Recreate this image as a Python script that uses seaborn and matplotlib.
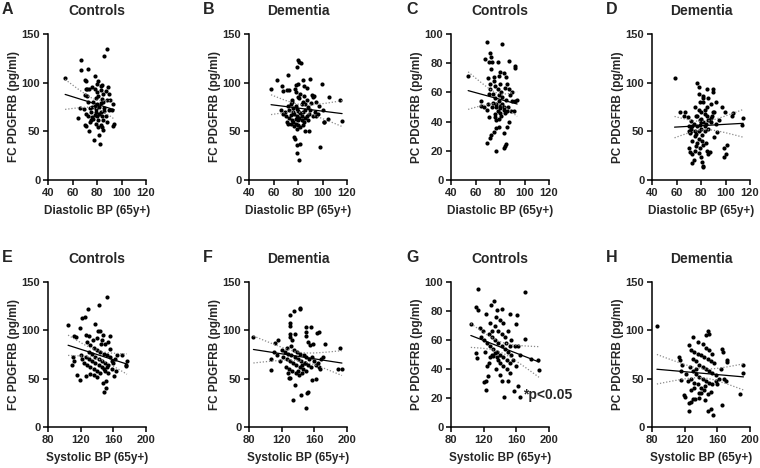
import numpy as np
import pandas as pd
import seaborn as sns
import matplotlib
matplotlib.use("Agg")
import matplotlib.pyplot as plt

# ---------------- data ----------------
# A: FC PDGFRB, controls vs diastolic BP
a_x = [54, 67, 67, 73, 88, 86, 70, 71, 78, 81, 80, 84, 83.5, 89, 70.7, 72, 73.5, 78, 83, 87,
       85, 70.5, 72, 81, 79, 84, 88, 73, 77, 80, 83, 91, 66, 69, 74, 78, 82, 86, 75, 71,
       79, 83, 86, 90, 73, 76, 80, 84, 64.8, 77, 81, 85, 88, 74, 79, 83, 94, 93, 70, 71,
       81, 84, 73.5, 85, 81.6, 77.5, 82.4, 93, 92, 76, 79, 82, 75, 78, 87, 80, 76, 90, 85]
a_y = [105, 123, 113, 114, 135, 127, 103, 102, 107, 102, 99, 98, 96.5, 96, 94, 94, 94, 93, 92, 91,
       88, 87, 86, 86, 84, 83, 82, 80, 80, 78, 79, 82, 73.6, 73, 74, 76, 75, 74, 70, 68,
       70, 70, 71, 72, 66, 65, 66, 66, 64, 63, 62, 62, 60, 60, 58, 57, 58, 55, 56, 55,
       54, 54, 50, 51, 46.6, 41, 37, 78, 72, 75, 73, 68, 62, 67, 66, 90, 96, 88, 80]

# B: FC PDGFRB, dementia vs diastolic BP
b_x = [58, 63, 72, 80, 81, 82.5, 79.5, 78.6, 80, 84.4, 90, 99.7, 67, 67.7, 71, 73, 77.5, 85, 87, 91.5,
       92, 105.7, 114, 100, 104.6, 101, 101.5, 116, 82, 79, 79, 81, 98, 77, 77.5, 89, 85.5,
       72, 74, 76, 78, 80, 82, 84, 86, 88, 90, 70, 73, 75, 77, 79, 81, 83, 85, 87, 89,
       71, 74, 76, 78, 80, 82, 84, 86, 92, 94, 96, 75, 78, 81, 83, 85, 87, 79, 76, 73,
       69, 68, 66, 80, 83, 77, 79, 84, 88, 91, 93, 95, 74, 82, 86, 78, 80, 72, 75, 95, 97]
b_y = [93, 103, 108, 123, 121, 120.5, 116, 98, 99, 103, 104, 98.6, 96.6, 91, 92, 92.5, 94, 96.5, 94.5, 87,
       85.6, 85, 82, 72, 63, 60, 59.5, 61, 36.6, 36, 28, 20.5, 34, 44.5, 42, 50, 50,
       76, 78, 74, 76, 85, 88, 80, 78, 75, 72, 66, 64, 62, 68, 66, 64, 62, 60, 66, 68,
       60, 58, 60, 58, 56, 54, 70, 72, 66, 70, 68, 82, 90, 84, 78, 86, 82, 73, 70, 72,
       70, 68, 72, 62, 66, 55, 52, 57, 62, 79, 86, 66, 67, 69, 64, 63, 71, 58, 80, 80, 76]

# C: PC PDGFRB, controls vs diastolic BP
c_x = [54, 69, 82, 67.4, 72, 72.6, 78, 71, 73.4, 87, 92.6, 92, 70, 75, 79, 84.7, 80, 76, 72, 86,
       70.7, 74, 79, 82, 90, 92, 94, 64.6, 66.6, 64.6, 73.4, 77, 80.3, 83, 86.3, 89, 91.8, 69, 71, 76,
       80, 84, 77, 79, 76.4, 87, 75, 73, 83, 71.5, 69, 85, 84, 83, 77,
       78, 81, 84, 76, 79, 82, 85, 88, 74, 77, 80, 83, 86, 78, 81, 72, 75, 83, 87, 90,
       73, 80, 76, 79, 86, 70]
c_y = [71, 94.7, 93, 83, 86.8, 84, 81, 80.6, 80.8, 81.5, 76.5, 78, 70, 70.8, 71, 70.5, 66, 64.4, 62, 66,
       59, 59, 58, 57, 54, 54.3, 55, 54.3, 50, 51, 50, 50, 49, 50, 50, 47, 47, 48, 43, 45,
       45.6, 46, 41, 36.5, 35.6, 40, 33, 31, 32, 28.5, 25.6, 24.7, 23, 21.7, 20,
       62, 60, 63, 56, 54, 52, 55, 58, 53, 52, 51, 48, 47, 47, 44, 66, 68, 73, 62, 60,
       76, 74, 43, 42, 36, 52]

# D: PC PDGFRB, dementia vs diastolic BP
d_x = [58.4, 77, 78, 84.7, 89.6, 89.6, 78, 81.5, 85.5, 99.6, 106, 105, 114.5, 113.7, 101, 99, 100, 99,
       63, 67, 69, 71.7, 73, 70, 71, 70, 71, 73, 74, 73, 81, 82, 81.5, 86, 87, 91, 93, 97, 92, 82,
       75, 78, 80, 83, 85, 88, 76, 79, 82, 84, 87, 90, 74, 77, 80, 83, 86, 89, 75, 78,
       81, 84, 73, 76, 79, 82, 75, 78, 80, 72, 70, 66, 85, 88, 91, 79, 82, 77, 80, 83,
       78, 75, 81, 86, 88, 92, 95, 72, 77, 85, 80, 83, 79, 76]
d_y = [104.5, 99.7, 96, 93, 93, 90.4, 88, 86, 84.6, 70, 69, 66, 64, 56.5, 36, 33, 27, 24,
       70, 69.5, 65, 61, 55.5, 50, 48.6, 32.5, 29, 26.7, 21, 17, 18.5, 14.7, 13, 27, 29, 44.5, 49.6, 75, 80.5, 80.5,
       75, 72, 70, 68, 66, 64, 66, 62, 60, 58, 62, 70, 58, 55, 52, 50, 62, 66, 45, 42,
       40, 38, 40, 35, 33, 36, 30, 28, 24, 50, 55, 66, 75, 78, 70, 80, 84, 66, 60, 55,
       50, 50, 46, 52, 60, 58, 62, 52, 38, 30, 63, 72, 57, 47]

# E: FC PDGFRB, controls vs systolic BP
e_x = [104.6, 119, 111.5, 114, 128.8, 142, 151.7, 122, 125, 137, 141, 143.5, 127, 130, 156, 146, 156, 171,
       176.7, 175.5, 175.5, 109, 111.5, 110.7, 119.7, 115.6, 126, 148, 150.5, 147.6, 150.5, 161, 163.5,
       128, 132, 136, 140, 144, 148, 152, 156, 130, 134, 138, 142, 146, 150, 154, 158, 162, 126,
       124, 128, 132, 136, 140, 144, 148, 152, 120, 122, 130, 134, 138, 142, 146, 150, 154, 136,
       140, 132, 160, 165, 145, 150, 153, 140, 135, 147, 158]
e_y = [105.4, 102, 93.7, 93.4, 122, 126, 134.6, 113, 113.7, 106.4, 99.5, 99, 94.7, 94, 93.7, 90, 80.7, 74.8,
       68.7, 64.5, 62.8, 63.8, 68.7, 72.8, 48.7, 54, 53, 36.4, 40.5, 45.3, 48, 53, 58,
       88, 85, 82, 80, 78, 76, 74, 72, 78, 76, 72, 70, 68, 66, 64, 68, 70, 72,
       66, 64, 62, 60, 58, 56, 60, 62, 74, 70, 70, 68, 66, 64, 62, 58, 56, 54,
       52, 55, 66, 75, 86, 86, 88, 92, 90, 95, 60]

# F: FC PDGFRB, dementia vs systolic BP
f_x = [85.4, 129.6, 129.6, 129.6, 135, 142.5, 143, 112, 116, 129.6, 130.5, 136, 150, 150, 156, 149.5, 166, 162.7,
       172.7, 192, 188.6, 193.8, 167, 162, 157, 107, 106.9, 136, 133.8, 152, 151.6, 143.7, 149.5, 128.4, 130.5,
       120, 124, 128, 132, 136, 140, 144, 148, 152, 156, 122, 126, 130, 134, 138, 142, 146, 150,
       125, 129, 133, 137, 141, 145, 149, 153, 157, 160, 164, 168, 118, 114, 110, 127, 131, 135, 139,
       143, 147, 155, 158, 152, 162, 166, 170, 128, 140, 145, 150, 133]
f_y = [93, 115.7, 108, 104.7, 119.5, 122, 123, 86.5, 90, 96, 93, 96, 97.9, 93.7, 103, 103, 98, 97.5,
       86, 82, 59.7, 60, 60, 50, 49, 70, 59.4, 43, 28, 36, 35, 33, 20, 51, 50.8,
       80, 78, 76, 74, 72, 70, 68, 66, 64, 62, 72, 70, 68, 66, 64, 62, 60, 58,
       62, 60, 58, 56, 54, 56, 66, 70, 72, 68, 66, 70, 68, 74, 78, 82, 84, 80, 78,
       76, 74, 85, 86, 88, 64, 62, 72, 56, 58, 64, 72, 90]

# G: PC PDGFRB, controls vs systolic BP
g_x = [104.3, 113, 110, 113.3, 132.6, 129.3, 136.7, 142, 170, 152, 161, 159.3, 123, 115, 170.8, 186.8, 187.7, 178,
       110.8, 111.6, 123, 120.7, 123, 144.5, 157.7, 161.8, 164, 150, 152, 142.9, 125,
       120, 124, 128, 132, 136, 140, 144, 148, 152, 126, 130, 134, 138, 142, 146, 150, 154,
       122, 130, 132, 134, 136, 138, 140, 144, 148, 128, 126, 124, 130, 134, 138, 142, 146,
       150, 154, 158, 162, 165, 156, 160, 144, 140, 128, 135, 147, 152, 119, 117, 135, 140]
g_y = [71.3, 95.4, 83, 81, 87, 84, 81, 81.6, 93, 77.7, 77, 71, 78, 68, 61, 46, 39.5, 47,
       51.3, 47.4, 32, 31, 25.7, 20.7, 24.8, 28, 21, 32, 37, 32, 35,
       60, 58, 56, 54, 52, 50, 48, 46, 44, 64, 62, 60, 58, 56, 54, 52, 50,
       52, 50, 49, 51, 48, 46, 44, 42, 40, 48, 44, 42, 66, 70, 66, 64, 62,
       66, 60, 56, 56, 50, 46, 42, 72, 74, 72, 76, 58, 56, 66, 62, 40, 36]

# H: PC PDGFRB, dementia vs systolic BP
h_x = [86, 148.3, 150.4, 146, 129.6, 166, 167, 171.5, 172, 192, 191.5, 187.8, 113, 114.6, 116.6, 115.8, 115,
       119.5, 121, 125, 127.6, 125.6, 130, 132.5, 148, 154.9, 152.8, 165.4, 138, 140.6, 144.7,
       125, 128, 132, 136, 140, 144, 148, 152, 156, 130, 134, 138, 142, 146, 150, 154, 158,
       126, 130, 134, 138, 142, 146, 150, 154, 158, 162, 128, 132, 136, 140, 144, 148, 152,
       122, 124, 160, 164, 168, 170, 136, 142, 146, 150, 154, 132, 138, 145, 128, 134]
h_y = [104, 99.5, 96, 95, 92.7, 80.7, 78, 69, 67, 64.5, 55.6, 34.3, 72, 69, 64.5, 57.7, 49,
       33.6, 31, 16.5, 25.7, 24.7, 28.5, 29, 17, 12.4, 19, 23, 35.6, 35, 28,
       85, 80, 78, 76, 74, 72, 70, 68, 66, 70, 68, 64, 62, 60, 58, 56, 54,
       62, 58, 55, 52, 50, 48, 46, 44, 48, 50, 50, 46, 44, 40, 38, 34, 36,
       55, 48, 45, 60, 50, 48, 88, 86, 82, 80, 76, 40, 30, 42, 38, 60]

titles = ["Controls", "Dementia", "Controls", "Dementia",
          "Controls", "Dementia", "Controls", "Dementia"]
letters = ["A", "B", "C", "D", "E", "F", "G", "H"]
ylabels = ["FC PDGFRB (pg/ml)", "FC PDGFRB (pg/ml)", "PC PDGFRB (pg/ml)", "PC PDGFRB (pg/ml)",
           "FC PDGFRB (pg/ml)", "FC PDGFRB (pg/ml)", "PC PDGFRB (pg/ml)", "PC PDGFRB (pg/ml)"]
xlabels = ["Diastolic BP (65y+)"] * 4 + ["Systolic BP (65y+)"] * 4
dia_ticks = [40, 60, 80, 100, 120]
sys_ticks = [80, 120, 160, 200]
fc_ticks = [0, 50, 100, 150]
pc_ticks = [0, 20, 40, 60, 80, 100]
xs_data = [a_x, b_x, c_x, d_x, e_x, f_x, g_x, h_x]
ys_data = [a_y, b_y, c_y, d_y, e_y, f_y, g_y, h_y]

# ---------------- figure ----------------
sns.set_theme(style="ticks")
plt.rcParams["font.family"] = ["Liberation Sans", "DejaVu Sans"]
plt.rcParams["font.weight"] = "bold"
plt.rcParams["axes.labelweight"] = "bold"
plt.rcParams["axes.titleweight"] = "bold"

W, H = 760, 468
fig = plt.figure(figsize=(W / 100, H / 100), dpi=100)

col_x = [48, 249, 451, 652]
letter_x = [2, 203, 406, 606]
rows = [(34, 180), (282, 427)]
letter_y = [10, 258]

for i in range(8):
    r, c = divmod(i, 4)
    top, bot = rows[r]
    ax = fig.add_axes([col_x[c] / W, (H - bot) / H, 98 / W, (bot - top) / H])
    x = np.asarray(xs_data[i], float)
    y = np.asarray(ys_data[i], float)
    df = pd.DataFrame({"x": x, "y": y})
    sns.regplot(data=df, x="x", y="y", ax=ax, ci=None,
                scatter_kws=dict(s=9, color="black", linewidths=0, alpha=1),
                line_kws=dict(color="black", lw=0.9))
    # 95% confidence band of the fitted line (dotted)
    n = len(x)
    b1, b0 = np.polyfit(x, y, 1)
    resid = y - (b0 + b1 * x)
    s = np.sqrt(np.sum(resid ** 2) / (n - 2))
    xm = x.mean()
    sxx = np.sum((x - xm) ** 2)
    xx = np.linspace(x.min(), x.max(), 100)
    yy = b0 + b1 * xx
    se = s * np.sqrt(1 / n + (xx - xm) ** 2 / sxx)
    ax.plot(xx, yy + 1.98 * se, ls=(0, (1, 1.5)), color="#8a8a8a", lw=0.9)
    ax.plot(xx, yy - 1.98 * se, ls=(0, (1, 1.5)), color="#8a8a8a", lw=0.9)

    xt = dia_ticks if r == 0 else sys_ticks
    yt = pc_ticks if c == 2 else fc_ticks
    ax.set_xlim(xt[0], xt[-1])
    ax.set_ylim(yt[0], yt[-1])
    ax.set_xticks(xt)
    ax.set_yticks(yt)
    ax.tick_params(labelsize=8, width=1.1, length=3.5, pad=2, color="black")
    for lab in ax.get_xticklabels() + ax.get_yticklabels():
        lab.set_fontweight("bold")
    for sp in ["top", "right"]:
        ax.spines[sp].set_visible(False)
    for sp in ["left", "bottom"]:
        ax.spines[sp].set_linewidth(1.1)
        ax.spines[sp].set_color("black")
    ax.set_xlabel(xlabels[i], fontsize=8.5, fontweight="bold", labelpad=5)
    ax.set_ylabel(ylabels[i], fontsize=8.5, fontweight="bold", labelpad=1.5)
    ax.set_title(titles[i], fontsize=10, fontweight="bold", pad=14)
    if i == 6:
        ax.text(168, 22, "*p<0.05", fontsize=10, fontweight="bold", va="center", ha="left",
                clip_on=False)
    fig.text(letter_x[c] / W, 1 - letter_y[r] / H, letters[i], fontsize=11.5,
             fontweight="bold", va="center", ha="left")

fig.savefig("out.png", dpi=100, facecolor="white")
